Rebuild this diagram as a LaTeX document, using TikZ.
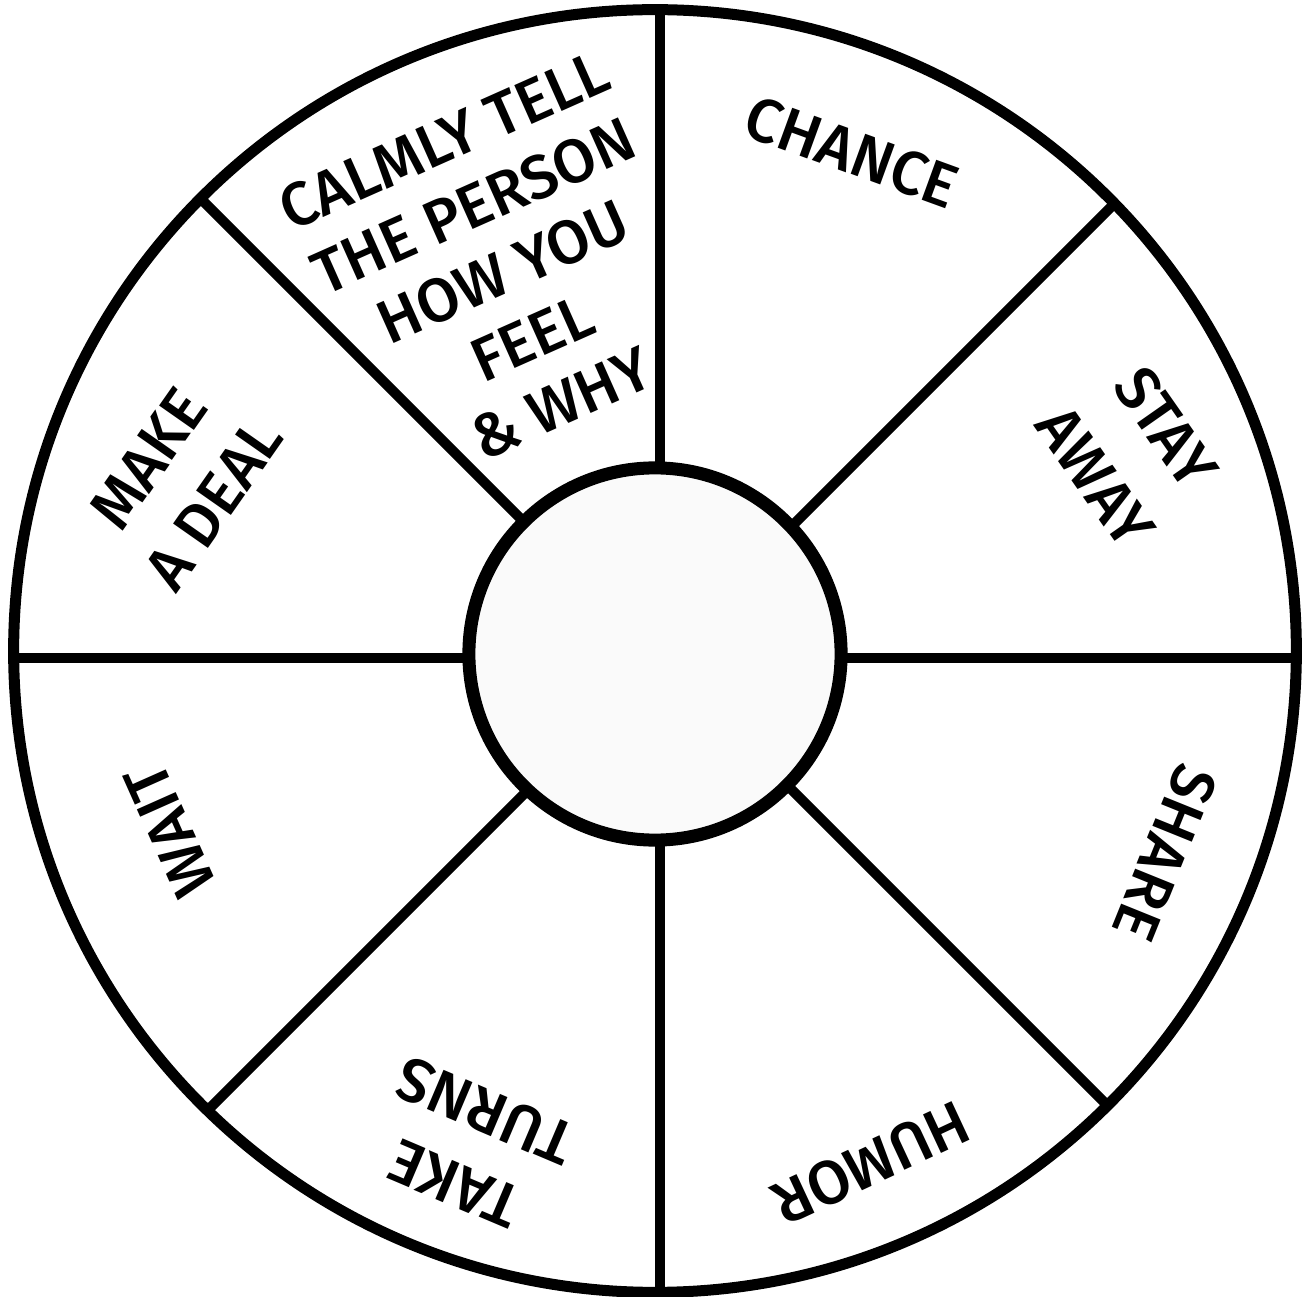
\documentclass[tikz,border=0pt]{standalone}
\usepackage{fontspec}
\setmainfont{Fira Sans}[UprightFont={* Medium}]

\begin{document}
\begin{tikzpicture}[
  x=0.01cm, y=-0.01cm,
  rim/.style={draw, circle, line width=0.11cm, minimum size=12.82cm, inner sep=0pt, outer sep=0pt},
  hub/.style={draw, circle, line width=0.13cm, minimum size=3.72cm, inner sep=0pt, fill=black!2},
  spoke/.style={line width=0.10cm},
  lab/.style={align=center, inner sep=0pt, font=\fontsize{17.5}{20.5}\selectfont}
]
\useasboundingbox (0,0) rectangle (1311,1297);

% ---------------------------------------------------------------------------
% Wheel: spokes (kept inside the rim), rim, then the hub on top
% ---------------------------------------------------------------------------
\coordinate (axle) at (660,658);
\begin{scope}
  \clip (655,651) circle[radius=641];
  \foreach \a in {0,45,...,315}
    \draw[spoke] (axle) -- ++(\a:700 and -700);
\end{scope}

\node[rim] (rim) at (655,651) {};
\node[hub] (hub) at (655,654) {};

% ---------------------------------------------------------------------------
% Segment labels, clockwise from the top
% ---------------------------------------------------------------------------
\node[lab, rotate=-20] (chance) at (852,152) {CHANCE};
\node[lab, rotate=-55] (stay) at (1131,452) {STAY\\[4pt]AWAY};
\node[lab, rotate=-112] (share) at (1165,853) {SHARE};
\node[lab, rotate=-155] (humor) at (871,1163) {HUMOR};
\node[lab, rotate=157] (turns) at (470,1147) {TAKE\\[2pt]TURNS};
\node[lab, rotate=114] (wait) at (170,830) {WAIT};
\node[lab, rotate=55] (deal) at (181,481) {MAKE\\[2pt]A DEAL};
\node[lab, rotate=24] (calm) at (503,272) {CALMLY TELL\\THE PERSON\\HOW YOU\\FEEL\\\& WHY};

\end{tikzpicture}
\end{document}
